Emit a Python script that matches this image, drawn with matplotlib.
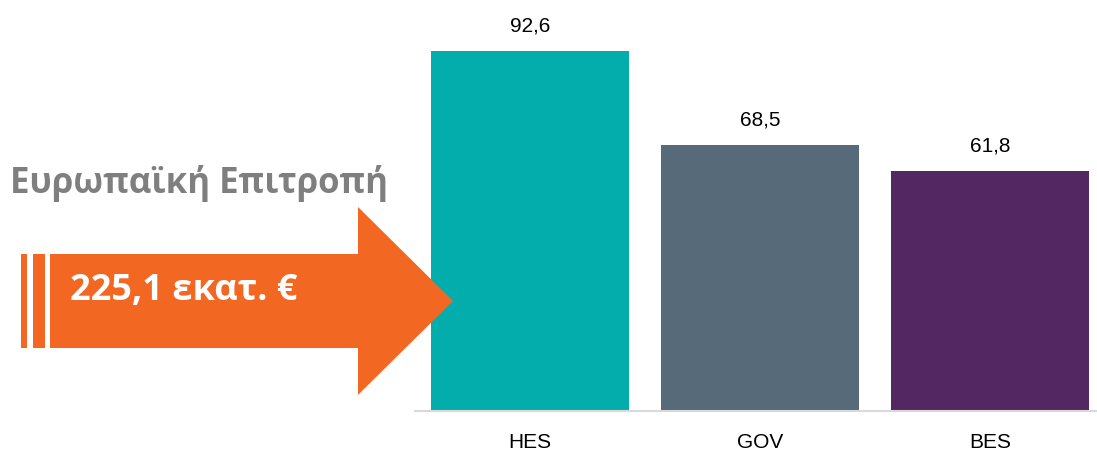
import matplotlib.pyplot as plt
from matplotlib.patches import Polygon, Rectangle

categories = ['HES', 'GOV', 'BES']
values = [92.6, 68.5, 61.8]
colors = ['#02ADAB', '#566A79', '#532762']
title_text = 'Ευρωπαϊκή Επιτροπή'
total_text = '225,1 εκατ. €'

W, H = 1097, 454
fig = plt.figure(figsize=(W / 100, H / 100), dpi=100)

# bar chart area
ax = fig.add_axes([415 / W, 43 / H, 682 / W, 411 / H])
x = range(len(categories))
bars = ax.bar(x, values, width=0.857, color=colors)
ax.set_xlim(-0.5, 2.465)
ax.set_ylim(0, 105.7)
for b, v in zip(bars, values):
    ax.text(b.get_x() + b.get_width() / 2, v + 4.0, f'{v:.1f}'.replace('.', ','),
            ha='center', va='bottom', fontsize=15, family='Liberation Sans')
ax.set_xticks(list(x))
ax.set_xticklabels(categories, fontsize=15, family='Liberation Sans')
ax.tick_params(axis='x', length=0, pad=16)
ax.set_yticks([])
for s in ['top', 'right', 'left']:
    ax.spines[s].set_visible(False)
ax.spines['bottom'].set_color('#D9D9D9')
ax.spines['bottom'].set_linewidth(1.5)

# overlay in pixel coordinates for the arrow
ov = fig.add_axes([0, 0, 1, 1])
ov.set_xlim(0, W)
ov.set_ylim(H, 0)
ov.axis('off')
ov.patch.set_alpha(0)
orange = '#F26722'
ov.add_patch(Rectangle((21, 254), 6, 94, color=orange, lw=0))
ov.add_patch(Rectangle((33, 254), 12, 94, color=orange, lw=0))
ov.add_patch(Polygon([(50, 254), (358, 254), (358, 207), (453, 301),
                      (358, 395), (358, 348), (50, 348)], closed=True,
                     color=orange, lw=0))
ov.text(70, 291, total_text, color='white', fontsize=26, fontweight='bold',
        family='Open Sans', va='center', ha='left')
ov.text(10, 184, title_text, color='#7F7F7F', fontsize=25, fontweight='bold',
        family='Open Sans', va='center', ha='left')

fig.savefig('out.png', dpi=100)
